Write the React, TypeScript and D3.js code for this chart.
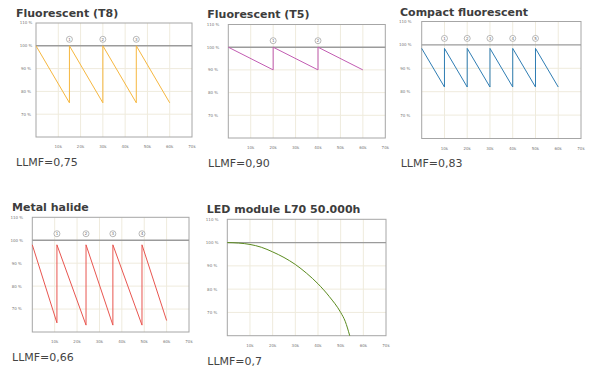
import React from 'react';
import * as d3 from 'd3';

// axis ticks shared by every panel
const xTicks = [10000, 20000, 30000, 40000, 50000, 60000, 70000];
const xTickLabels = ['10k', '20k', '30k', '40k', '50k', '60k', '70k'];
const yTicks = [70, 80, 90, 100, 110];
const yTickLabels = ['70 %', '80 %', '90 %', '100 %', '110 %'];

// lumen maintenance curves (hours, % of initial flux)
const t8Hours = [0, 15000, 15000, 30000, 30000, 45000, 45000, 60000];
const t8Level = [100, 75, 100, 75, 100, 75, 100, 75];
const t8Relamp = [15000, 30000, 45000];

const t5Hours = [0, 20000, 20000, 40000, 40000, 60000];
const t5Level = [100, 90, 100, 90, 100, 90];
const t5Relamp = [20000, 40000];

const cflHours = [0, 10000, 10000, 20000, 20000, 30000, 30000, 40000, 40000, 50000, 50000, 60000];
const cflLevel = [98.5, 82, 98.5, 82, 98.5, 82, 98.5, 82, 98.5, 82, 98.5, 82];
const cflRelamp = [10000, 20000, 30000, 40000, 50000];

const mhHours = [0, 11000, 11000, 24000, 24000, 36000, 36000, 49000, 49000, 60000];
const mhLevel = [98, 64, 98, 63, 98, 63, 98, 63, 98, 65];
const mhRelamp = [11000, 24000, 36000, 49000];

const ledHours = [0, 5000, 10000, 15000, 20000, 25000, 30000, 35000, 40000, 45000, 50000, 52000, 54000];
const ledLevel = [100, 99.8, 99.2, 98, 96, 93.6, 90.6, 86.8, 82.3, 76.8, 70, 66.2, 60];
const ledRelamp: number[] = [];

const titles = ['Fluorescent (T8)', 'Fluorescent (T5)', 'Compact fluorescent', 'Metal halide', 'LED module L70 50.000h'];
const llmfLabels = ['LLMF=0,75', 'LLMF=0,90', 'LLMF=0,83', 'LLMF=0,66', 'LLMF=0,7'];
const colors = ['#f6b73f', '#c25cb2', '#2f7db3', '#e8554f', '#5b8b1f'];

const series = [
  { hours: t8Hours, level: t8Level, relamp: t8Relamp },
  { hours: t5Hours, level: t5Level, relamp: t5Relamp },
  { hours: cflHours, level: cflLevel, relamp: cflRelamp },
  { hours: mhHours, level: mhLevel, relamp: mhRelamp },
  { hours: ledHours, level: ledLevel, relamp: ledRelamp },
];

const layout = [
  { left: 36, right: 192, top: 23, bottom: 137, titleX: 16, titleY: 17, llmfX: 16, llmfY: 166, yLabX: 26 },
  { left: 228.3, right: 385.3, top: 24.5, bottom: 138, titleX: 207.3, titleY: 17.5, llmfX: 208, llmfY: 166.5, yLabX: 213 },
  { left: 421.7, right: 581, top: 21.5, bottom: 138.5, titleX: 400, titleY: 15.5, llmfX: 400.7, llmfY: 167, yLabX: 405.3 },
  { left: 32.3, right: 189, top: 217.3, bottom: 332, titleX: 12, titleY: 210.7, llmfX: 12, llmfY: 360.7, yLabX: 16.8 },
  { left: 227.3, right: 386, top: 219.3, bottom: 335.7, titleX: 206.7, titleY: 213.3, llmfX: 207.3, llmfY: 365, yLabX: 212.2 },
];

const font = 'DejaVu Sans, Verdana, sans-serif';

function Panel({ i }: { i: number }) {
  const L = layout[i];
  const s = series[i];
  const x = d3.scaleLinear().domain([0, 70000]).range([L.left, L.right]);
  const y = d3.scaleLinear().domain([60, 110]).range([L.bottom, L.top]);
  const pts: [number, number][] = s.hours.map((h, k) => [h, s.level[k]]);
  const line = d3.line<[number, number]>()
    .x(d => x(d[0]))
    .y(d => y(d[1]))
    .curve(i === 4 ? d3.curveMonotoneX : d3.curveLinear);
  const markY = y(100) - 6.5;
  return (
    <g>
      <text x={L.titleX} y={L.titleY} fontFamily={font} fontSize={11} fontWeight="bold" fill="#3d3d3d">{titles[i]}</text>
      {xTicks.slice(0, -1).map(t => (
        <line key={'gx' + t} x1={x(t)} x2={x(t)} y1={L.top} y2={L.bottom} stroke="#efebdd" strokeWidth={1} />
      ))}
      {yTicks.filter(t => t < 100).map(t => (
        <line key={'gy' + t} x1={L.left} x2={L.right} y1={y(t)} y2={y(t)} stroke="#efebdd" strokeWidth={1} />
      ))}
      <rect x={L.left} y={L.top} width={L.right - L.left} height={L.bottom - L.top} fill="none" stroke="#a6a6a6" strokeWidth={1} />
      <line x1={L.left} x2={L.right} y1={y(100)} y2={y(100)} stroke="#9b9b9b" strokeWidth={1.4} />
      <path d={line(pts) || ''} fill="none" stroke={colors[i]} strokeWidth={1} />
      {s.relamp.map((h, k) => (
        <g key={'m' + h}>
          <circle cx={x(h)} cy={markY} r={3} fill="#fff" stroke="#8a8a8a" strokeWidth={0.6} />
          <text x={x(h)} y={markY + 1.5} textAnchor="middle" fontFamily={font} fontSize={4} fill="#666">{k + 1}</text>
        </g>
      ))}
      {yTicks.map((t, k) => (
        <text key={'yl' + t} x={L.yLabX} y={y(t) + 1.4} textAnchor="middle" fontFamily={font} fontSize={4} fill="#777">{yTickLabels[k]}</text>
      ))}
      {xTicks.map((t, k) => (
        <text key={'xl' + t} x={x(t)} y={L.bottom + 11} textAnchor="middle" fontFamily={font} fontSize={4} fill="#777">{xTickLabels[k]}</text>
      ))}
      <text x={L.llmfX} y={L.llmfY} fontFamily={font} fontSize={11} fill="#444">{llmfLabels[i]}</text>
    </g>
  );
}

export default function App() {
  return (
    <svg width={600} height={373} viewBox="0 0 600 373" style={{ position: 'absolute', left: 0, top: 0, background: '#fff' }}>
      <rect width={600} height={373} fill="#fff" />
      {series.map((_, i) => <Panel key={i} i={i} />)}
    </svg>
  );
}
